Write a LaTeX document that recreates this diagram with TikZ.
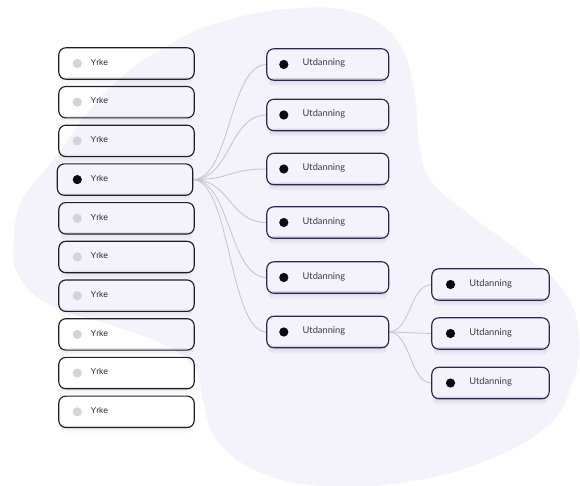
\documentclass[tikz,border=0pt]{standalone}
\usepackage{fontspec}
\setmainfont{Liberation Sans}
\newfontfamily\latofont{Lato}
\usetikzlibrary{fadings}

\definecolor{blobfill}{HTML}{F4F3FC}
\definecolor{linkgray}{HTML}{C8C7CD}
\definecolor{yrkeedge}{HTML}{1E1E24}
\definecolor{utdedge}{HTML}{2C2852}
\definecolor{dotgray}{HTML}{D5D3D9}
\definecolor{dotdark}{HTML}{0A0A12}
\definecolor{yrketext}{HTML}{2A2A2E}
\definecolor{utdtext}{HTML}{3A3946}
\definecolor{shadowcol}{HTML}{8A87A0}

\tikzset{
  card/.style={rectangle, minimum height=31pt, inner sep=0pt},
  yrkecard/.style={card, minimum width=135pt},
  utdcard/.style={card, minimum width=121.5pt},
  utdcardsmall/.style={card, minimum width=117pt},
  outline/.style={line width=1.15pt, rounded corners=7pt},
  bulletdot/.style={circle, inner sep=0pt, minimum size=9.2pt},
  greydot/.style={bulletdot, fill=dotgray},
  darkdot/.style={bulletdot, fill=dotdark},
  yrkelabel/.style={anchor=base west, inner sep=0pt, text=yrketext, font=\fontsize{8.5}{10}\selectfont},
  utdlabel/.style={anchor=base west, inner sep=0pt, text=utdtext, font=\latofont\fontsize{9.3}{11}\selectfont},
  link/.style={draw=linkgray, line width=0.9pt},
  underglow/.style={fill=shadowcol, fill opacity=#1, path fading=south, rounded corners=4pt},
}

\begin{document}
\begin{tikzpicture}[x=1pt, y=-1pt]
  \useasboundingbox (0,0) rectangle (580,486);

  % lavender backdrop blob
  \fill[blobfill] plot[smooth cycle, tension=0.7] coordinates {
    (300,8) (360,14) (398,42) (414,90) (420,150) (433,183) (470,215)
    (520,252) (563,290) (579,335) (572,385) (545,428) (480,463) (400,483)
    (320,486) (255,470) (217,440) (204,405) (195,370) (165,345) (110,325)
    (50,305) (18,275) (14,240) (22,200) (55,158) (85,116) (118,80)
    (160,50) (220,22)};

  % occupation cards (left column)
  \foreach \i/\yy in {1/63.5, 2/102.2, 3/140.9, 5/218.3, 6/257, 7/295.7, 8/334.4, 9/373.1, 10/411.8}{
    \node[yrkecard] (y\i) at (126.5,\yy) {};
  }
  \node[yrkecard] (y4) at (125,179.6) {};

  % education cards
  \foreach \i/\yy in {1/64.5, 2/115, 3/169, 4/222.5, 5/277.5, 6/332}{
    \node[utdcard] (u\i) at (327.75,\yy) {};
  }
  \foreach \i/\yy in {1/284.5, 2/333.5, 3/383}{
    \node[utdcardsmall] (v\i) at (490.5,\yy) {};
  }

  % soft shadows below the cards
  \foreach \n/\op in {y1/0.18,y2/0.18,y3/0.18,y4/0.18,y5/0.18,y6/0.18,y7/0.18,y8/0.18,y9/0.18,y10/0.18,
                      u1/0.3,u2/0.3,u3/0.3,u4/0.3,u5/0.3,u6/0.3,v1/0.3,v2/0.3,v3/0.3}{
    \path[underglow=\op] ([xshift=2pt, yshift=2pt]\n.south west) rectangle ([xshift=-2pt, yshift=-6pt]\n.south east);
  }

  % connectors
  \foreach \t in {u1,u2,u3,u4,u5,u6}{
    \draw[link] (y4.east) .. controls +(38,0) and +(-38,0) .. (\t.west);
  }
  \foreach \t in {v1,v2,v3}{
    \draw[link] (u6.east) .. controls +(22,0) and +(-22,0) .. (\t.west);
  }

  % card outlines
  \foreach \n in {y1,y2,y3,y4,y5,y6,y7,y8,y9,y10}{
    \draw[outline, yrkeedge] (\n.south west) rectangle (\n.north east);
  }
  \foreach \n in {u1,u2,u3,u4,u5,u6,v1,v2,v3}{
    \draw[outline, utdedge] (\n.south west) rectangle (\n.north east);
  }

  % bullets and labels
  \foreach \i in {1,2,3,5,6,7,8,9,10}{
    \node[greydot] (yd\i) at ([xshift=18.5pt]y\i.west) {};
    \node[yrkelabel] (yt\i) at ([xshift=31.7pt, yshift=-1.8pt]y\i.west) {Yrke};
  }
  \node[darkdot] (yd4) at ([xshift=20pt]y4.west) {};
  \node[yrkelabel] (yt4) at ([xshift=33.2pt, yshift=-1.8pt]y4.west) {Yrke};

  \foreach \n in {u1,u2,u3,u4,u5,u6}{
    \node[darkdot] (\n d) at ([xshift=17pt]\n.west) {};
    \node[utdlabel] (\n t) at ([xshift=35.7pt, yshift=-1.5pt]\n.west) {Utdanning};
  }
  \foreach \n in {v1,v2,v3}{
    \node[darkdot] (\n d) at ([xshift=18.7pt]\n.west) {};
    \node[utdlabel] (\n t) at ([xshift=37.3pt, yshift=-1.5pt]\n.west) {Utdanning};
  }
\end{tikzpicture}
\end{document}
